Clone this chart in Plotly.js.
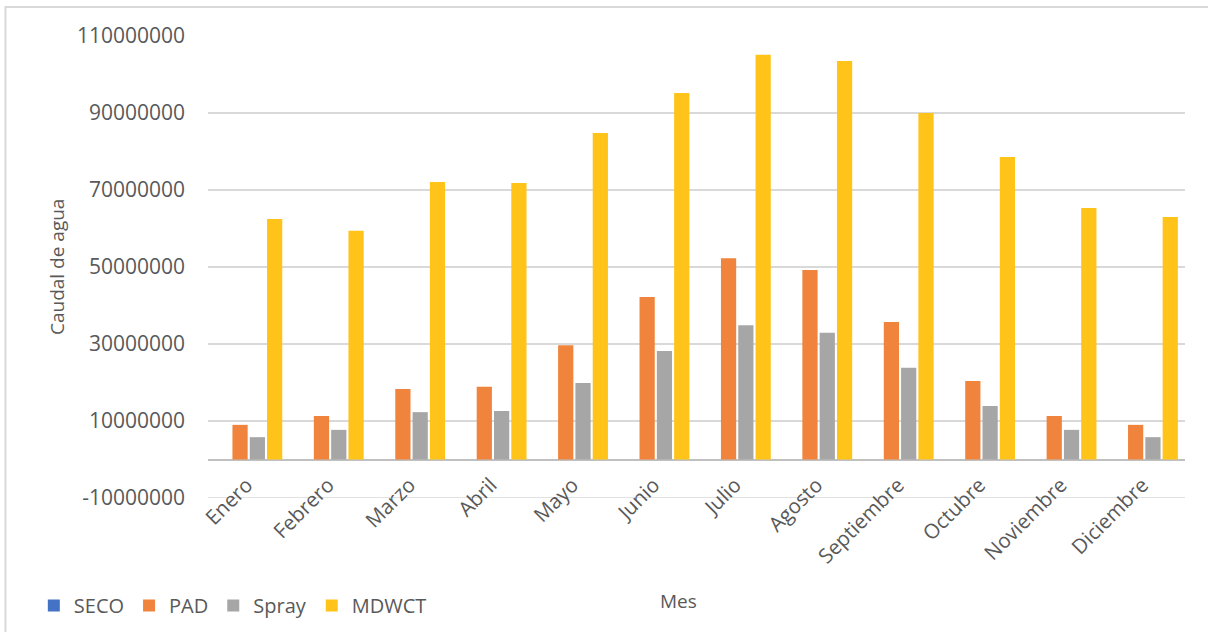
<!DOCTYPE html>
<html>
<head>
<meta charset="utf-8">
<script src="https://cdn.plot.ly/plotly-3.0.1.min.js"></script>
<style>
html,body{margin:0;padding:0;background:#fff;}
#chart{width:1208px;height:632px;}
</style>
</head>
<body>
<div id="chart"></div>
<script>
const months = ["Enero","Febrero","Marzo","Abril","Mayo","Junio","Julio","Agosto","Septiembre","Octubre","Noviembre","Diciembre"];
const seco  = [0,0,0,0,0,0,0,0,0,0,0,0];
const pad   = [9000000,11300000,18300000,18900000,29700000,42200000,52300000,49200000,35700000,20400000,11300000,9000000];
const spray = [5800000,7700000,12300000,12600000,19900000,28200000,34900000,32900000,23800000,13900000,7700000,5800000];
const mdwct = [62500000,59400000,72100000,71800000,84800000,95200000,105100000,103500000,90000000,78600000,65300000,63000000];
const yTicks = [-10000000,10000000,30000000,50000000,70000000,90000000,110000000];

const font = "'Open Sans', 'Noto Sans', sans-serif";
const txt = "#595959";

function bar(name, y, color) {
  return {type:"bar", name:name, x:months, y:y,
          marker:{color:color, line:{width:0}}, hoverinfo:"y"};
}
const data = [
  bar("SECO", seco, "#4472C4"),
  bar("PAD", pad, "#F0843C"),
  bar("Spray", spray, "#A6A6A6"),
  bar("MDWCT", mdwct, "#FFC31A")
];

const layout = {
  width:1208, height:632,
  margin:{l:208, r:23, t:36, b:134},
  paper_bgcolor:"#fff", plot_bgcolor:"#fff",
  font:{family:font, color:txt, size:20},
  barmode:"group", bargap:0.15, bargroupgap:0.12,
  showlegend:true,
  legend:{orientation:"h", xref:"container", yref:"container", x:0.028, y:0.042,
          xanchor:"left", yanchor:"middle", font:{size:20, color:txt},
          tracegroupgap:0, bgcolor:"rgba(0,0,0,0)"},
  xaxis:{type:"category", showgrid:false, zeroline:false, showline:false,
         tickangle:-45, ticks:"", ticklabelstandoff:-30, ticklabelshift:-2,
         tickfont:{size:20.5, color:txt}},
  yaxis:{range:[-10000000,110000000], tickvals:yTicks, ticktext:yTicks.map(v=>String(v)),
         showgrid:true, gridcolor:"#d9d9d9", gridwidth:1.3,
         zeroline:true, zerolinecolor:"#c0c0c0", zerolinewidth:2,
         showline:false, ticks:"", ticklabelstandoff:22,
         tickfont:{size:21, color:txt}},
  annotations:[
    {text:"Caudal de agua", xref:"paper", yref:"paper", x:(57-208)/977, y:0.5,
     textangle:-90, showarrow:false, font:{size:19, color:txt}, xanchor:"center", yanchor:"middle"},
    {text:"Mes", xref:"paper", yref:"paper", x:(678-208)/977, y:(498-601)/462,
     showarrow:false, font:{size:19, color:txt}, xanchor:"center", yanchor:"middle"}
  ],
  shapes:[
    {type:"rect", xref:"paper", yref:"paper",
     x0:(5.5-208)/977, x1:(1212-208)/977, y0:(498-636)/462, y1:(498-7)/462,
     line:{color:"#d9d9d9", width:2}, fillcolor:"rgba(0,0,0,0)", layer:"below"},
    {type:"line", xref:"paper", yref:"y", x0:0, x1:1, y0:yTicks[0], y1:yTicks[0],
     line:{color:"#d9d9d9", width:1.3}, layer:"below"}
  ]
};

Plotly.newPlot("chart", data, layout, {displayModeBar:false, staticPlot:true});
</script>
</body>
</html>
